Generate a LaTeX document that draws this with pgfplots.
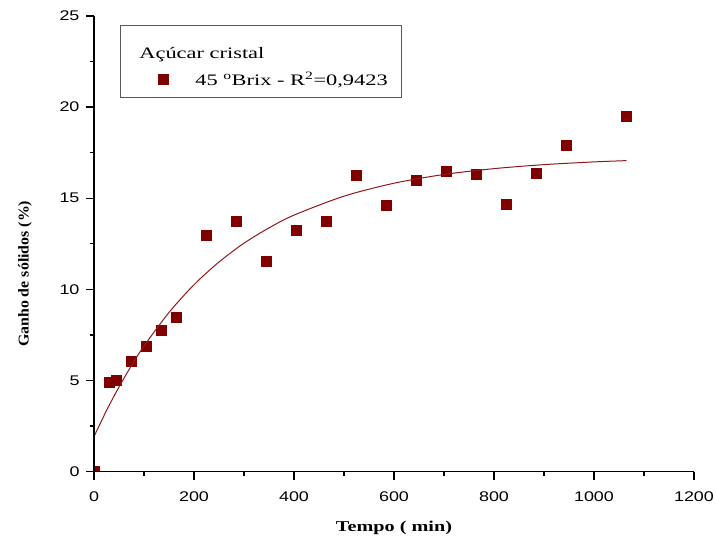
\documentclass[border=0pt]{standalone}
\usepackage{pgfplots}
\pgfplotsset{compat=1.18}
\usepackage{fontspec}
\setmainfont{Liberation Serif}
\setsansfont{Liberation Sans}
\newfontfamily\ticksf[FakeStretch=1.28]{Liberation Sans}
\newfontfamily\legf[FakeStretch=1.4]{Liberation Serif}
\newfontfamily\xlabf[FakeStretch=1.35]{Liberation Serif}
\newfontfamily\ylabf[FakeStretch=1.06]{Liberation Serif}
\definecolor{mk}{RGB}{128,0,0}
\definecolor{fitc}{RGB}{145,25,25}
\pgfplotsset{mylegimg/.style={legend image code/.code={\path[draw=none] (0pt,0pt) -- (61pt,0pt);
    \draw[##1] plot coordinates {(31pt,0pt)};}}}
\begin{document}
\begin{tikzpicture}
\useasboundingbox (0pt,0pt) rectangle (716pt,541pt);
\begin{axis}[
  at={(94pt,69.4pt)}, anchor=south west,
  width=600pt, height=455.7pt, scale only axis,
  xmin=0, xmax=1200, ymin=0, ymax=25,
  axis x line*=bottom, axis y line*=left,
  axis line style={line width=1.8pt,-},
  axis on top,
  clip marker paths=true,
  xtick={0,200,...,1200}, minor x tick num=1,
  ytick={0,5,...,25}, minor y tick num=1,
  tick align=outside, major tick length=8pt, minor tick length=4pt,
  every tick/.style={line width=1.3pt, black},
  /pgf/number format/assume math mode=true,
  /pgf/number format/1000 sep={},
  ticklabel style={font=\ticksf\fontsize{14}{16}\selectfont},
  xticklabel style={yshift=-9pt},
  yticklabel style={xshift=-3pt},
  xlabel={\xlabf\bfseries Tempo ( min)},
  ylabel={\ylabf\bfseries Ganho de sólidos (\%)},
  label style={font=\fontsize{15}{17}\selectfont},
  xlabel style={at={(axis description cs:0.500,-0.124)}, anchor=center},
  ylabel style={at={(axis description cs:-0.115,0.434)}, anchor=center, rotate=0},
  legend style={at={(axis cs:52,24.48)}, anchor=north west,
    draw=gray!70!black, line width=0.8pt,
    font=\legf\fontsize{16}{18}\selectfont,
    inner xsep=12pt, inner ysep=7.5pt, row sep=8pt},
  legend cell align=left,
]
\addlegendimage{empty legend}
\addlegendentry{\hspace*{-56pt}\rule{0pt}{23.5pt}Açúcar cristal}
\addplot[only marks, mark=square*, mark size=5pt, color=mk, mylegimg]
 coordinates {
 (0,0) (30,4.89) (45,5.0) (75,6.04) (105,6.87) (135,7.75) (165,8.46)
 (225,12.97) (285,13.74) (345,11.54) (405,13.24) (465,13.74) (525,16.26)
 (585,14.6) (645,15.99) (705,16.48) (765,16.3) (825,14.67) (885,16.37)
 (945,17.9) (1065,19.5)
};
\addlegendentry{\rule[-7pt]{0pt}{7pt}45 \textsuperscript{o}Brix - R\textsuperscript{2}=0,9423}
\addplot[color=fitc, line width=1pt, smooth, forget plot] coordinates {
 (0,1.92) (25,3.35) (50,4.64) (75,5.82) (100,6.89) (150,8.73) (200,10.25)
 (250,11.50) (300,12.53) (350,13.37) (400,14.07) (500,15.11) (600,15.82)
 (700,16.30) (800,16.62) (900,16.84) (1000,16.99) (1065,17.06)
};
\end{axis}
\end{tikzpicture}
\end{document}
